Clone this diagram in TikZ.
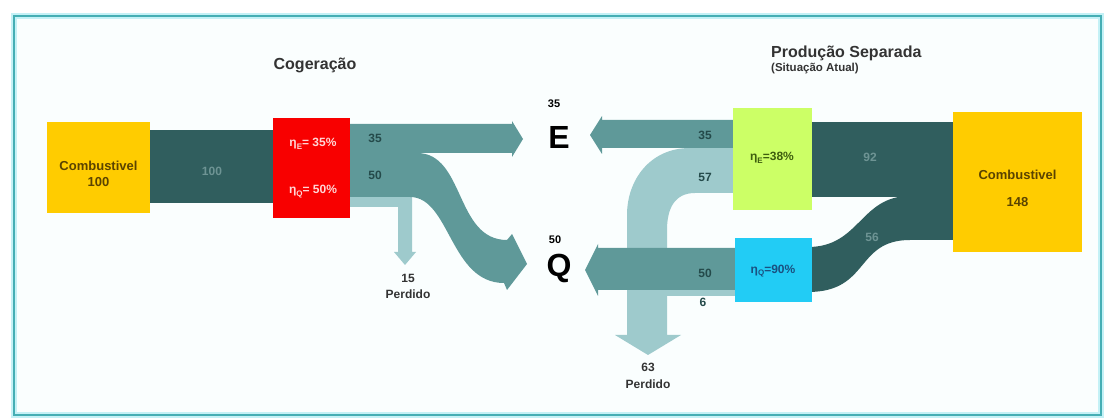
\documentclass[tikz,border=0pt]{standalone}
\usepackage{fontspec}
\setmainfont{Liberation Sans}

\definecolor{framecol}{HTML}{45AEB4}
\definecolor{frameglow}{HTML}{C4F1F6}
\definecolor{panel}{HTML}{FAFEFE}
\definecolor{fuelyellow}{HTML}{FFCC00}
\definecolor{banddark}{HTML}{305E5E}
\definecolor{bandmid}{HTML}{5F9999}
\definecolor{bandlight}{HTML}{9ECACC}
\definecolor{effred}{HTML}{F80000}
\definecolor{effgreen}{HTML}{CCFF66}
\definecolor{effblue}{HTML}{22CCF5}
\definecolor{titlegray}{HTML}{333333}
\definecolor{numteal}{HTML}{244A4A}
\definecolor{numdark}{HTML}{6E9494}
\definecolor{fueltext}{HTML}{5A4300}
\definecolor{redtext}{HTML}{FFD6D6}
\definecolor{greentext}{HTML}{3E5E0E}
\definecolor{bluetext}{HTML}{1A5080}

% subscript used in the efficiency labels
\newcommand{\effsub}[1]{\raisebox{-0.35ex}{\fontsize{8}{8}\selectfont #1}}

\begin{document}
\begin{tikzpicture}[x=1pt,y=-1pt,
  box/.style={draw=none, inner sep=0pt, outer sep=0pt},
  title/.style={font=\bfseries\fontsize{16}{16}\selectfont, text=titlegray, inner sep=0pt},
  subtitle/.style={font=\bfseries\fontsize{11.5}{11.5}\selectfont, text=titlegray, inner sep=0pt},
  num/.style={font=\bfseries\fontsize{12}{12}\selectfont, text=numteal, inner sep=0pt},
  numondark/.style={font=\bfseries\fontsize{12}{12}\selectfont, text=numdark, inner sep=0pt},
  fuellabel/.style={font=\bfseries\fontsize{13}{13}\selectfont, text=fueltext, inner sep=0pt},
  efflabel/.style={font=\bfseries\fontsize{12}{12}\selectfont, inner sep=0pt},
  big/.style={font=\bfseries\fontsize{32}{32}\selectfont, text=black, inner sep=0pt},
  small/.style={font=\bfseries\fontsize{11}{11}\selectfont, text=black, inner sep=0pt},
  loss/.style={font=\bfseries\fontsize{12}{12}\selectfont, text=titlegray, inner sep=0pt},
]
\useasboundingbox (0,0) rectangle (1109,419);

% frame
\fill[panel] (14,16) rectangle (1101,415);
\draw[frameglow, line width=6pt] (14,16) rectangle (1101,415);
\draw[framecol, line width=2.6pt] (14,16) rectangle (1101,415);

% ---------- cogeneration side: flows ----------
\fill[banddark] (145,130) rectangle (278,203);
% loss 15
\fill[bandlight] (345,197) -- (412,197) -- (412,252) -- (416,252) -- (405,265)
  -- (394,252) -- (398,252) -- (398,207) -- (345,207) -- cycle;
% heat 50
\fill[bandmid] (345,153) -- (417,153) .. controls (465,153) and (455,240) .. (507,240)
  -- (512,234) -- (527,264) -- (507,290) -- (504,283)
  .. controls (450,283) and (450,197) .. (410,197) -- (345,197) -- cycle;
% electricity 35
\fill[bandmid] (345,124) -- (512,124) -- (512,121) -- (523,139) -- (512,157)
  -- (512,153) -- (345,153) -- cycle;

% ---------- separate production side: flows ----------
\fill[banddark] (805,122) rectangle (957,197);
\fill[banddark] (957,196) -- (910,196) .. controls (860,196) and (860,247) .. (808,247)
  -- (808,292) .. controls (870,292) and (855,240) .. (910,240) -- (957,240) -- cycle;
% losses 57 + 6 = 63
\fill[bandlight] (738,148) -- (690,148) .. controls (650,148) and (627,180) .. (627,215)
  -- (627,335) -- (615,335) -- (648,355) -- (681,335) -- (667,335) -- (667,230)
  .. controls (667,208) and (675,193) .. (695,193) -- (738,193) -- cycle;
\fill[bandlight] (660,290) rectangle (738,296);
% electricity 35
\fill[bandmid] (738,120) -- (602,120) -- (602,116) -- (590,135) -- (602,154)
  -- (602,148) -- (738,148) -- cycle;
% heat 50
\fill[bandmid] (738,248) -- (598,248) -- (598,244) -- (585,270) -- (598,296)
  -- (598,290) -- (738,290) -- cycle;

% ---------- boxes ----------
\node[box, fill=fuelyellow, minimum width=103pt, minimum height=91pt] (fuelL) at (98.5,167.5) {};
\node[box, fill=effred, minimum width=77pt, minimum height=100pt] (cogen) at (311.5,168) {};
\node[box, fill=effgreen, minimum width=79pt, minimum height=102pt] (plantE) at (772.5,159) {};
\node[box, fill=effblue, minimum width=77pt, minimum height=64pt] (plantQ) at (773.5,270) {};
\node[box, fill=fuelyellow, minimum width=129pt, minimum height=140pt] (fuelR) at (1017.5,182) {};

% ---------- texts ----------
\node[title, anchor=base] (tcog) at (315,70) {Cogeração};
\node[title, anchor=base west] (tsep) at (771,58) {Produção Separada};
\node[subtitle, anchor=base west] (tsit) at (771,72) {(Situação Atual)};

\node[fuellabel, anchor=base] (fuelLa) at (98.5,171) {Combustivel};
\node[fuellabel, anchor=base] (fuelLb) at (98.5,187) {100};
\node[numondark] (n100) at (212,171) {100};
\node[efflabel, text=redtext, anchor=base] (etaE1) at (313,147) {η\effsub{E}= 35\%};
\node[efflabel, text=redtext, anchor=base] (etaQ1) at (313,194) {η\effsub{Q}= 50\%};
\node[num] (n35a) at (375,138) {35};
\node[num] (n50a) at (375,175) {50};
\node[loss] (n15) at (408,278) {15};
\node[loss] (p15) at (408,294) {Perdido};

\node[small] (sE) at (554,104) {35};
\node[big] (bigE) at (559,137) {E};
\node[small] (sQ) at (555,240) {50};
\node[big] (bigQ) at (559,268) {Q};

\node[num] (n35b) at (705,135) {35};
\node[num] (n57) at (705,177) {57};
\node[num] (n50b) at (705,273) {50};
\node[num] (n6) at (703,302) {6};
\node[efflabel, text=greentext] (etaE2) at (772,158) {η\effsub{E}=38\%};
\node[efflabel, text=bluetext] (etaQ2) at (773,271) {η\effsub{Q}=90\%};
\node[numondark] (n92) at (870,157) {92};
\node[numondark] (n56) at (872,237) {56};
\node[fuellabel, anchor=base] (fuelRa) at (1017.5,180) {Combustivel};
\node[fuellabel, anchor=base] (fuelRb) at (1017.5,207) {148};
\node[loss] (n63) at (648,367) {63};
\node[loss] (p63) at (648,384) {Perdido};
\end{tikzpicture}
\end{document}
